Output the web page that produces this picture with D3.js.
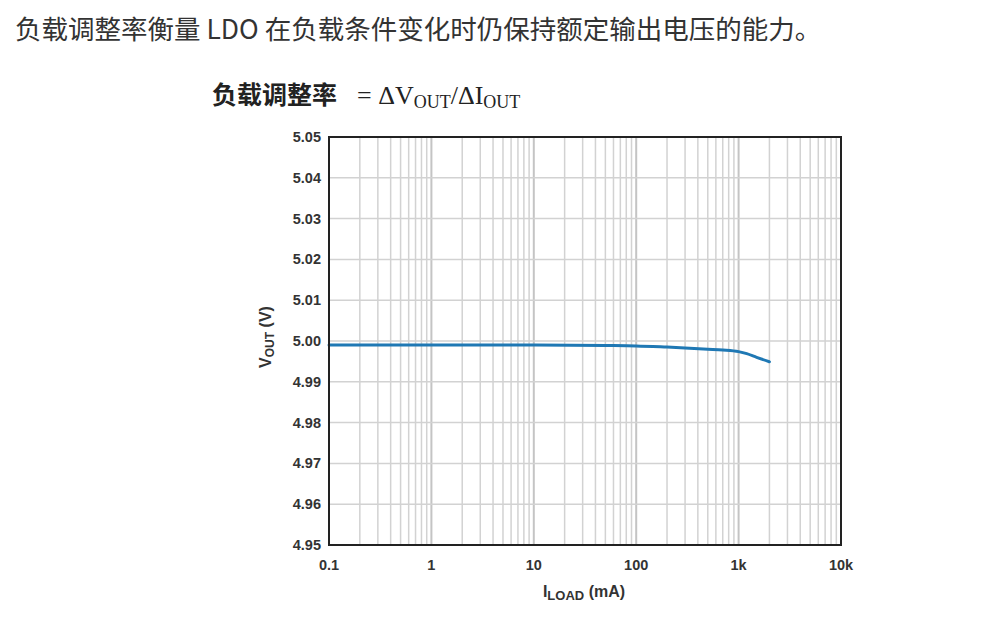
<!DOCTYPE html>
<html>
<head>
<meta charset="utf-8">
<script src="https://cdn.jsdelivr.net/npm/d3@7"></script>
<style>
  html, body { margin: 0; padding: 0; background: #fff; }
  svg { display: block; }
</style>
</head>
<body>
<script>
// ---- data ----
const loadCurrent = [0.1, 1, 10, 50, 100, 200, 300, 500, 700, 1000, 1200, 1500, 2000];   // mA
const vout        = [4.999, 4.999, 4.999, 4.9989, 4.9988, 4.9985, 4.9983, 4.9980, 4.9978, 4.9974, 4.9969, 4.9960, 4.9949]; // V
const yTicks = [4.95, 4.96, 4.97, 4.98, 4.99, 5.00, 5.01, 5.02, 5.03, 5.04, 5.05];
const xTicks = [0.1, 1, 10, 100, 1000, 10000];
const xTickLabels = ["0.1", "1", "10", "100", "1k", "10k"];
const headerText = "负载调整率衡量 LDO 在负载条件变化时仍保持额定输出电压的能力。";
const formulaCJK = "负载调整率";

(function () {
const W = 990, H = 629;
const svg = d3.select("body").append("svg").attr("width", W).attr("height", H);

// header sentence
svg.append("text")
  .attr("x", 15).attr("y", 39)
  .attr("font-family", "'Noto Sans CJK SC', sans-serif")
  .attr("font-size", 26.5)
  .attr("fill", "#333")
  .text(headerText);

// formula title
const ft = svg.append("text").attr("x", 212).attr("y", 104).attr("fill", "#222");
ft.append("tspan")
  .attr("font-family", "'Noto Sans CJK SC', sans-serif")
  .attr("font-weight", "bold").attr("font-size", 25)
  .text(formulaCJK);
const serif = "'Liberation Serif', 'DejaVu Serif', serif";
ft.append("tspan").attr("font-family", serif).attr("font-size", 26).attr("dx", 20).text("= ΔV");
ft.append("tspan").attr("font-family", serif).attr("font-size", 18).attr("dy", 4).text("OUT");
ft.append("tspan").attr("font-family", serif).attr("font-size", 26).attr("dy", -4).text("/ΔI");
ft.append("tspan").attr("font-family", serif).attr("font-size", 18).attr("dy", 4).text("OUT");

// plot area
const pL = 329, pR = 841, pT = 137, pB = 545;
const x = d3.scaleLog().domain([0.1, 10000]).range([pL, pR]);
const y = d3.scaleLinear().domain([4.95, 5.05]).range([pB, pT]);

// minor vertical grid lines
const minorX = [];
for (let d = 0.1; d < 10000; d *= 10) {
  for (let k = 2; k <= 9; k++) minorX.push(+(d * k).toPrecision(6));
}
const g = svg.append("g");
g.selectAll("line.vminor").data(minorX).join("line")
  .attr("x1", d => x(d)).attr("x2", d => x(d))
  .attr("y1", pT).attr("y2", pB)
  .attr("stroke", "#d2d2d2").attr("stroke-width", 1.5);
g.selectAll("line.vmajor").data(xTicks.slice(1, -1)).join("line")
  .attr("x1", d => x(d)).attr("x2", d => x(d))
  .attr("y1", pT).attr("y2", pB)
  .attr("stroke", "#c4c4c4").attr("stroke-width", 2);
g.selectAll("line.h").data(yTicks.slice(1, -1)).join("line")
  .attr("x1", pL).attr("x2", pR)
  .attr("y1", d => y(d)).attr("y2", d => y(d))
  .attr("stroke", "#d2d2d2").attr("stroke-width", 1.5);

// curve
const line = d3.line()
  .x(d => x(d[0])).y(d => y(d[1]))
  .curve(d3.curveMonotoneX);
svg.append("path")
  .datum(loadCurrent.map((c, i) => [c, vout[i]]))
  .attr("d", line)
  .attr("fill", "none")
  .attr("stroke", "#1f78b4")
  .attr("stroke-width", 3)
  .attr("stroke-linecap", "round");

// frame
svg.append("rect")
  .attr("x", pL).attr("y", pT)
  .attr("width", pR - pL).attr("height", pB - pT)
  .attr("fill", "none").attr("stroke", "#222").attr("stroke-width", 2);

const tickFont = "'Liberation Sans', Arial, sans-serif";
// y tick labels
svg.selectAll("text.yt").data(yTicks).join("text")
  .attr("x", 321).attr("y", d => y(d) + 5)
  .attr("text-anchor", "end")
  .attr("font-family", tickFont).attr("font-weight", "bold").attr("font-size", 14.5)
  .attr("fill", "#333")
  .text(d => d.toFixed(2));

// x tick labels
svg.selectAll("text.xt").data(xTicks).join("text")
  .attr("x", d => x(d)).attr("y", 570)
  .attr("text-anchor", "middle")
  .attr("font-family", tickFont).attr("font-weight", "bold").attr("font-size", 14.5)
  .attr("fill", "#333")
  .text((d, i) => xTickLabels[i]);

// x axis title
const xt = svg.append("text")
  .attr("x", 584).attr("y", 597)
  .attr("text-anchor", "middle")
  .attr("font-family", tickFont).attr("font-weight", "bold").attr("font-size", 16)
  .attr("fill", "#333");
xt.append("tspan").text("I");
xt.append("tspan").attr("font-size", 13).attr("dy", 3).text("LOAD");
xt.append("tspan").attr("dy", -3).text(" (mA)");

// y axis title
const yt = svg.append("text")
  .attr("transform", `translate(271, 337) rotate(-90)`)
  .attr("text-anchor", "middle")
  .attr("font-family", tickFont).attr("font-weight", "bold").attr("font-size", 16)
  .attr("fill", "#333");
yt.append("tspan").text("V");
yt.append("tspan").attr("font-size", 12).attr("dy", 3).text("OUT");
yt.append("tspan").attr("dy", -3).text(" (V)");
})();
</script>
</body>
</html>
